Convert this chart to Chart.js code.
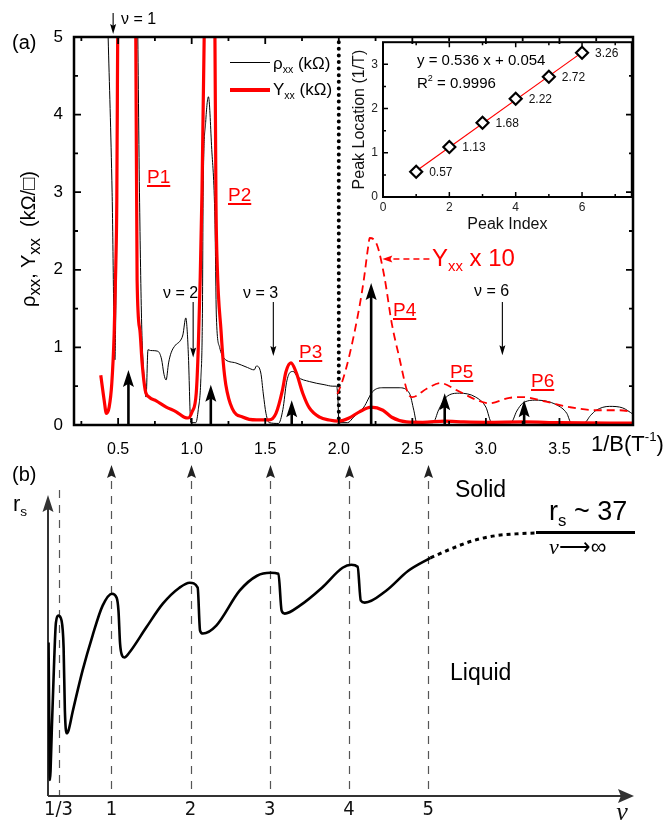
<!DOCTYPE html>
<html>
<head>
<meta charset="utf-8">
<script src="https://cdn.jsdelivr.net/npm/chart.js@4.4.1/dist/chart.umd.min.js"></script>
<style>
  body { margin: 0; background: #fff; }
  #fig { position: relative; width: 670px; height: 824px; overflow: hidden;
         font-family: "Liberation Sans", Arial, sans-serif; color: #000; }
  #fig canvas { position: absolute; }
  .t { position: absolute; white-space: nowrap; line-height: 1; }
  .p { position: absolute; white-space: nowrap; line-height: 1; color: #f00; font-size: 19px;
       text-decoration: underline; text-underline-offset: 2px; text-decoration-thickness: 1.5px; }
  .t sub { font-size: 0.62em; vertical-align: -0.35em; }
  .t sup { font-size: 0.6em; vertical-align: 0.75em; }
  .leg { position: absolute; left: 230px; width: 40px; }
  .ylab { position: absolute; left: 31px; top: 239px; transform: translate(-50%, -50%) rotate(-90deg);
          white-space: nowrap; line-height: 1; font-size: 20px; }
  .nu { font-family: "Liberation Serif", serif; font-style: italic; }
</style>
</head>
<body>
<div id="fig">
  <canvas id="mainChart" width="670" height="460" style="left:0;top:0"></canvas>
  <canvas id="insetChart" width="310" height="210" style="left:330px;top:30px"></canvas>
  <canvas id="rsChart" width="670" height="384" style="left:0;top:440px"></canvas>

  <!-- panel (a) text -->
  <div class="t" style="left:12px;top:32px;font-size:20px">(a)</div>
  <div class="ylab">ρ<sub>xx</sub>, Y<sub>xx</sub> &nbsp;(kΩ/□)</div>
  <div class="t" style="left:121px;top:11px;font-size:16px">ν = 1</div>
  <div class="t" style="left:163px;top:285px;font-size:16px">ν = 2</div>
  <div class="t" style="left:243px;top:285px;font-size:16px">ν = 3</div>
  <div class="t" style="left:474px;top:283px;font-size:16px">ν = 6</div>
  <div class="p" style="left:147px;top:167px">P1</div>
  <div class="p" style="left:228px;top:185px">P2</div>
  <div class="p" style="left:299px;top:342px">P3</div>
  <div class="p" style="left:393px;top:300px">P4</div>
  <div class="p" style="left:450px;top:362px">P5</div>
  <div class="p" style="left:531px;top:371px">P6</div>
  <div class="t" style="left:432px;top:246px;font-size:24px;color:#f00">Y<sub>xx</sub> x 10</div>
  <div class="t" style="left:591px;top:430px;font-size:22px">1/B(T<sup>-1</sup>)</div>
  <div class="leg" style="top:62px;height:1px;background:#000"></div>
  <div class="leg" style="top:88px;height:3.5px;background:#f00"></div>
  <div class="t" style="left:273px;top:55px;font-size:17px">ρ<sub>xx</sub> (kΩ)</div>
  <div class="t" style="left:273px;top:81px;font-size:17px">Y<sub>xx</sub> (kΩ)</div>
  <div class="t" style="left:417px;top:52px;font-size:15px">y = 0.536 x + 0.054</div>
  <div class="t" style="left:417px;top:74px;font-size:15px">R<sup>2</sup> = 0.9996</div>

  <!-- panel (b) text -->
  <div class="t" style="left:12px;top:464px;font-size:20px">(b)</div>
  <div class="t" style="left:13px;top:493px;font-size:22px">r<sub>s</sub></div>
  <div class="t" style="left:455px;top:478px;font-size:23px">Solid</div>
  <div class="t" style="left:450px;top:661px;font-size:23px">Liquid</div>
  <div class="t" style="left:549px;top:498px;font-size:27px">r<sub>s</sub> ~ 37</div>
  <div style="position:absolute;left:536px;top:531px;width:99px;height:3px;background:#000"></div>
  <div class="t" style="left:549px;top:536px;font-size:22px"><span class="nu">ν</span>⟶∞</div>
</div>

<script>
// --- DATA: panel (a), main traces (x = 1/B in 1/T, y in kOhm) ---
const rhoX = [0.42, 0.432, 0.459, 0.478, 0.49, 0.503, 0.52, 0.6, 0.63, 0.645, 0.66, 0.677, 0.69,
  0.703, 0.72, 0.77, 0.795, 0.812, 0.826, 0.843, 0.86, 0.89, 0.92, 0.94, 0.96, 0.97, 0.978, 0.994,
  1.028, 1.045, 1.062, 1.073, 1.078, 1.095, 1.114, 1.135, 1.158, 1.168, 1.19, 1.22, 1.3, 1.38,
  1.425, 1.44, 1.47, 1.487, 1.505, 1.527, 1.59, 1.62, 1.645, 1.67, 1.69, 1.72, 1.8, 1.9, 1.96,
  1.985, 1.995, 2.0, 2.06, 2.1, 2.17, 2.23, 2.3, 2.41, 2.48, 2.51, 2.53, 2.64, 2.68, 2.73, 2.82,
  2.93, 3.0, 3.04, 3.17, 3.21, 3.25, 3.34, 3.48, 3.55, 3.58, 3.67, 3.71, 3.75, 3.84, 3.93, 4.0];
const rhoY = [5.8, 5.0, 3.0, 0.84, 2.6, 5.0, 6.5, 6.5, 5.5, 3.0, 1.3, 0.6, 0.36,
  0.97, 0.96, 0.95, 0.85, 0.65, 0.58, 0.8, 0.93, 1.03, 1.08, 1.16, 1.38, 1.2, 0.88, 0.03,
  0.03, 0.2, 0.58, 1.44, 3.0, 3.9, 4.23, 3.6, 2.64, 1.39, 1.0, 0.86, 0.8, 0.74,
  0.71, 0.76, 0.67, 0.4, 0.15, 0.03, 0.02, 0.2, 0.55, 0.68, 0.69, 0.62, 0.56, 0.52, 0.5,
  0.5, 0.3, 0.03, 0.03, 0.1, 0.23, 0.43, 0.48, 0.48, 0.41, 0.19, 0.03, 0.03, 0.2, 0.36, 0.41,
  0.36, 0.23, 0.03, 0.03, 0.18, 0.28, 0.32, 0.26, 0.15, 0.03, 0.03, 0.12, 0.19, 0.24, 0.22, 0.14];

const gamX = [0.382, 0.405, 0.42, 0.439, 0.457, 0.473, 0.484, 0.491, 0.5, 0.55, 0.61, 0.62, 0.629,
  0.648, 0.663, 0.684, 0.711, 0.759, 0.827, 0.895, 0.95, 0.976, 1.003, 1.031, 1.045, 1.058, 1.07,
  1.085, 1.12, 1.158, 1.165, 1.174, 1.2, 1.215, 1.232, 1.276, 1.35, 1.44, 1.527, 1.573, 1.617,
  1.64, 1.675, 1.71, 1.755, 1.8, 1.87, 1.935, 2.0, 2.07, 2.14, 2.22, 2.3, 2.36, 2.46, 2.57, 2.72,
  2.85, 3.0, 3.26, 3.5, 4.0];
const gamY = [0.64, 0.32, 0.15, 0.23, 0.54, 1.18, 2.04, 2.9, 6.0, 9.0, 6.5, 5.0, 1.87,
  1.22, 0.8, 0.45, 0.36, 0.31, 0.23, 0.17, 0.1, 0.09, 0.17, 0.41, 1.0, 1.9, 3.0,
  5.0, 8.0, 5.0, 2.9, 2.04, 1.2, 0.8, 0.52, 0.21, 0.1, 0.065, 0.065, 0.15, 0.45,
  0.68, 0.8, 0.68, 0.41, 0.22, 0.1, 0.065, 0.05, 0.09, 0.17, 0.23, 0.19, 0.1, 0.04, 0.035, 0.05,
  0.04, 0.035, 0.04, 0.03, 0.025];

const gam10X = [1.99, 2.02, 2.07, 2.14, 2.17, 2.2, 2.21, 2.26, 2.31, 2.36, 2.41, 2.47, 2.5, 2.6,
  2.69, 2.8, 2.94, 3.02, 3.16, 3.25, 3.41, 3.57, 3.75, 3.91, 4.0];
const gam10Y = [0.4, 0.54, 0.88, 1.52, 1.87, 2.3, 2.41, 2.32, 1.91, 1.31, 0.88, 0.41, 0.36, 0.47,
  0.54, 0.45, 0.32, 0.28, 0.35, 0.36, 0.3, 0.23, 0.19, 0.19, 0.17];

const dotX = [2.0, 2.0];
const dotY = [0, 5];

const xTicksA = [0.5, 1.0, 1.5, 2.0, 2.5, 3.0, 3.5];
const xMinorA = [0.25, 0.5, 0.75, 1.0, 1.25, 1.5, 1.75, 2.0, 2.25, 2.5, 2.75, 3.0, 3.25, 3.5, 3.75];
const yTicksA = [0, 1, 2, 3, 4, 5];
const yMinorA = [0.5, 1, 1.5, 2, 2.5, 3, 3.5, 4, 4.5];

// --- DATA: peaks (inset) ---
const peakIndex = [1, 2, 3, 4, 5, 6];
const peakLoc = [0.57, 1.13, 1.68, 2.22, 2.72, 3.26];
const peakArrowTop = [0.71, 0.52, 0.32, 1.83, 0.41, 0.32];
const fitX = [1, 6];
const fitY = [0.59, 3.27];
const insetXTicks = [0, 2, 4, 6];
const insetXMinor = [1, 2, 3, 4, 5, 6, 7];
const insetYTicks = [0, 1, 2, 3];
const insetYMinor = [0.5, 1, 1.5, 2, 2.5, 3];

// --- DATA: panel (b), r_s vs filling factor ---
const rsNu = [0.207, 0.214, 0.224, 0.232, 0.249, 0.278, 0.30, 0.333, 0.371, 0.397, 0.413, 0.435,
  0.46, 0.51, 0.637, 0.763, 0.89, 1.008, 1.067, 1.09, 1.11, 1.135, 1.165, 1.228, 1.44, 1.65, 1.86,
  1.99, 2.09, 2.12, 2.156, 2.325, 2.62, 2.84, 3.01, 3.11, 3.15, 3.19, 3.38, 3.66, 3.92, 4.03,
  4.11, 4.15, 4.2, 4.47, 4.75, 5.03];
const rsVal = [15.4, 9.0, 1.6, 2.5, 6.9, 13.6, 17.4, 18.1, 17.6, 14.9, 8.6, 6.3,
  6.6, 8.4, 12.6, 16.1, 19.1, 20.3, 19.9, 18.6, 15.3, 14.1, 13.9, 14.4, 16.9, 19.3, 20.9,
  21.4, 20.9, 16.6, 16.3, 17.1, 20.6, 22.1, 22.4, 22.3, 18.6, 18.3, 19.1, 20.9, 22.9, 23.2,
  23.0, 19.6, 19.4, 20.6, 22.6, 23.9];
const rsTailNu = [5.03, 5.29, 5.56, 5.84, 6.1, 6.37];
const rsTailVal = [23.9, 24.8, 25.6, 26.1, 26.3, 26.4];
const guideNu = [1 / 3, 1, 2, 3, 4, 5];
const guideLabels = ['1/3', '1', '2', '3', '4', '5'];
const nuAxisPos = 7.45;

const FONT = '"Liberation Sans", Arial, sans-serif';
const zip = (xs, ys) => xs.map((x, i) => ({ x, y: ys[i] }));

// filled arrow head, tip at (x, y)
function arrowHead(ctx, x, y, dir, len, half) {
  const [dx, dy] = { up: [0, -1], down: [0, 1], left: [-1, 0], right: [1, 0] }[dir];
  const bx = x - dx * len, by = y - dy * len;
  const nx = x - dx * len * 0.82, ny = y - dy * len * 0.82;
  ctx.beginPath();
  ctx.moveTo(x, y);
  ctx.lineTo(bx - dy * half, by + dx * half);
  ctx.lineTo(nx, ny);
  ctx.lineTo(bx + dy * half, by - dx * half);
  ctx.closePath();
  ctx.fill();
}

// --- box frame with inward ticks ---
const frameTicks = {
  id: 'frameTicks',
  afterDraw(chart, args, o) {
    const { ctx, chartArea: a } = chart;
    const sx = chart.scales.x, sy = chart.scales.y;
    const isMajor = (list, v) => list.some(m => Math.abs(m - v) < 1e-6);
    ctx.save();
    ctx.strokeStyle = '#000';
    ctx.lineWidth = o.tickWidth;
    ctx.beginPath();
    o.xMinor.forEach(v => {
      const p = sx.getPixelForValue(v);
      const len = isMajor(o.xMajor, v) ? o.major : o.minor;
      if (o.sides.includes('b')) { ctx.moveTo(p, a.bottom); ctx.lineTo(p, a.bottom - len); }
      if (o.sides.includes('t')) { ctx.moveTo(p, a.top); ctx.lineTo(p, a.top + len); }
    });
    o.yMinor.forEach(v => {
      const p = sy.getPixelForValue(v);
      const len = isMajor(o.yMajor, v) ? o.major : o.minor;
      if (o.sides.includes('l')) { ctx.moveTo(a.left, p); ctx.lineTo(a.left + len, p); }
      if (o.sides.includes('r')) { ctx.moveTo(a.right, p); ctx.lineTo(a.right - len, p); }
    });
    ctx.stroke();
    ctx.lineWidth = o.frameWidth;
    ctx.strokeRect(a.left, a.top, a.right - a.left, a.bottom - a.top);
    ctx.restore();
  }
};

// --- arrows of panel (a) ---
const nuMarkX = [0.466, 1.01, 1.555, 3.112];
const nuMarkFrom = [5.31, 1.585, 1.585, 1.585];
const nuMarkTo = [5.04, 0.87, 0.89, 0.9];

const annotateA = {
  id: 'annotateA',
  afterDatasetsDraw(chart) {
    const { ctx } = chart;
    const sx = chart.scales.x, sy = chart.scales.y;
    ctx.save();
    ctx.strokeStyle = '#000';
    ctx.fillStyle = '#000';
    ctx.lineWidth = 2.6;
    peakLoc.forEach((v, i) => {
      const x = sx.getPixelForValue(v);
      const yTop = sy.getPixelForValue(peakArrowTop[i]);
      ctx.beginPath();
      ctx.moveTo(x, sy.getPixelForValue(0));
      ctx.lineTo(x, yTop + 12);
      ctx.stroke();
      arrowHead(ctx, x, yTop, 'up', 17, 5.5);
    });
    ctx.lineWidth = 1.1;
    nuMarkX.forEach((v, i) => {
      const x = sx.getPixelForValue(v);
      const y1 = sy.getPixelForValue(nuMarkTo[i]);
      ctx.beginPath();
      ctx.moveTo(x, sy.getPixelForValue(nuMarkFrom[i]));
      ctx.lineTo(x, y1 - 6);
      ctx.stroke();
      arrowHead(ctx, x, y1, 'down', 10, 3);
    });
    // dashed red pointer to the x10 trace
    const yP = sy.getPixelForValue(2.14);
    const xTip = sx.getPixelForValue(2.296);
    ctx.strokeStyle = '#f00';
    ctx.fillStyle = '#f00';
    ctx.lineWidth = 1.4;
    ctx.setLineDash([6, 4]);
    ctx.beginPath();
    ctx.moveTo(sx.getPixelForValue(2.616), yP);
    ctx.lineTo(xTip + 8, yP);
    ctx.stroke();
    ctx.setLineDash([]);
    arrowHead(ctx, xTip, yP, 'left', 10, 3.5);
    ctx.restore();
  }
};

const lineDs = (label, xs, ys, color, width, extra) => Object.assign({
  label, data: zip(xs, ys), borderColor: color, borderWidth: width,
  pointRadius: 0, fill: false, cubicInterpolationMode: 'monotone'
}, extra || {});

const noGrid = { display: false, drawTicks: false };

new Chart(document.getElementById('mainChart'), {
  type: 'line',
  data: {
    datasets: [
      lineDs('Yxx (kOhm)', gamX, gamY, '#ff0000', 3.2),
      lineDs('Yxx x 10', gam10X, gam10Y, '#ff0000', 1.8, { borderDash: [8, 5] }),
      lineDs('nu = 4', dotX, dotY, '#000', 4, { borderDash: [0, 6.6], borderCapStyle: 'round', cubicInterpolationMode: 'default' }),
      lineDs('rho_xx (kOhm)', rhoX, rhoY, '#000', 1)
    ]
  },
  options: {
    responsive: false,
    animation: false,
    layout: { padding: { left: 0, top: 37, right: 37, bottom: 0 } },
    plugins: {
      legend: { display: false },
      tooltip: { enabled: false },
      frameTicks: { xMajor: xTicksA, xMinor: xMinorA, yMajor: yTicksA, yMinor: yMinorA,
        sides: 'btlr', major: 7, minor: 4, tickWidth: 1.8, frameWidth: 2.5 }
    },
    scales: {
      x: {
        type: 'linear', min: 0.2, max: 4.0,
        grid: noGrid, border: { display: false },
        afterBuildTicks: s => { s.ticks = xTicksA.map(v => ({ value: v })); },
        afterFit: s => { s.height = 35; },
        ticks: { font: { family: FONT, size: 16 }, color: '#000', padding: 15, maxRotation: 0,
          autoSkip: false, callback: v => v.toFixed(1) }
      },
      y: {
        min: 0, max: 5,
        grid: noGrid, border: { display: false },
        afterBuildTicks: s => { s.ticks = yTicksA.map(v => ({ value: v })); },
        afterFit: s => { s.width = 74; },
        ticks: { font: { family: FONT, size: 17 }, color: '#000', padding: 11, callback: v => String(v) }
      }
    }
  },
  plugins: [frameTicks, annotateA]
});

// --- inset: peak location vs index ---
const pointLabels = {
  id: 'pointLabels',
  afterDatasetsDraw(chart) {
    const { ctx } = chart;
    const meta = chart.getDatasetMeta(0);
    ctx.save();
    ctx.font = '12px ' + FONT;
    ctx.fillStyle = '#111';
    ctx.textBaseline = 'middle';
    meta.data.forEach((pt, i) => ctx.fillText(peakLoc[i].toFixed(2), pt.x + 13, pt.y + 1));
    ctx.restore();
  }
};

new Chart(document.getElementById('insetChart'), {
  type: 'line',
  data: {
    datasets: [
      { label: 'peaks', data: zip(peakIndex, peakLoc), showLine: false, pointStyle: 'rectRot',
        pointRadius: 6, pointBorderWidth: 2.2, pointBorderColor: '#000', pointBackgroundColor: '#fff' },
      { label: 'fit', data: zip(fitX, fitY), borderColor: '#ff0000', borderWidth: 1.2, pointRadius: 0 }
    ]
  },
  options: {
    responsive: false,
    animation: false,
    layout: { padding: { left: 0, top: 7, right: 8, bottom: 0 } },
    plugins: {
      legend: { display: false },
      tooltip: { enabled: false },
      frameTicks: { xMajor: insetXTicks, xMinor: insetXMinor, yMajor: insetYTicks, yMinor: insetYMinor,
        sides: 'btl', major: 5, minor: 3, tickWidth: 1.5, frameWidth: 2 }
    },
    scales: {
      x: {
        type: 'linear', min: 0, max: 7.5,
        grid: noGrid, border: { display: false },
        afterBuildTicks: s => { s.ticks = insetXTicks.map(v => ({ value: v })); },
        afterFit: s => { s.height = 43; },
        ticks: { font: { family: FONT, size: 12 }, color: '#222', padding: 3, maxRotation: 0, autoSkip: false },
        title: { display: true, text: 'Peak Index', color: '#111', font: { family: FONT, size: 16 },
          padding: { top: 0, bottom: 6 } }
      },
      y: {
        min: 0, max: 3.5,
        grid: noGrid, border: { display: false },
        afterBuildTicks: s => { s.ticks = insetYTicks.map(v => ({ value: v })); },
        afterFit: s => { s.width = 53; },
        ticks: { font: { family: FONT, size: 12 }, color: '#222', padding: 5 },
        title: { display: true, text: 'Peak Location (1/T)', color: '#111', font: { family: FONT, size: 16 },
          padding: { top: 20, bottom: 0 } }
      }
    }
  },
  plugins: [frameTicks, pointLabels]
});

// --- panel (b): axes with arrows and dashed guides ---
const rsAxes = {
  id: 'rsAxes',
  beforeDatasetsDraw(chart) {
    const { ctx, chartArea: a } = chart;
    const sx = chart.scales.x;
    ctx.save();
    ctx.strokeStyle = '#555';
    ctx.lineWidth = 1.2;
    ctx.setLineDash([8, 7]);
    guideNu.forEach((v, i) => {
      const x = Math.round(sx.getPixelForValue(v)) + 0.5;
      ctx.beginPath();
      ctx.moveTo(x, i === 0 ? a.top - 7 : a.top - 16);
      ctx.lineTo(x, a.bottom);
      ctx.stroke();
    });
    ctx.setLineDash([]);
    ctx.fillStyle = '#222';
    guideNu.slice(1).forEach(v => {
      arrowHead(ctx, Math.round(sx.getPixelForValue(v)) + 0.5, a.top - 32, 'up', 13, 4.5);
    });
    ctx.strokeStyle = '#333';
    ctx.fillStyle = '#333';
    ctx.lineWidth = 2;
    ctx.beginPath();
    ctx.moveTo(a.left, a.bottom);
    ctx.lineTo(a.left, a.top + 10);
    ctx.moveTo(a.left, a.bottom);
    ctx.lineTo(a.right - 10, a.bottom);
    ctx.stroke();
    arrowHead(ctx, a.left, a.top - 2, 'up', 17, 5.5);
    arrowHead(ctx, a.right, a.bottom, 'right', 16, 7);
    ctx.restore();
  }
};

new Chart(document.getElementById('rsChart'), {
  type: 'line',
  data: {
    datasets: [
      lineDs('r_s', rsNu, rsVal, '#000', 2.6),
      lineDs('r_s limit', rsTailNu, rsTailVal, '#000', 3, { borderDash: [4, 4] })
    ]
  },
  options: {
    responsive: false,
    animation: false,
    layout: { padding: { left: 48, top: 57, right: 36, bottom: 0 } },
    plugins: { legend: { display: false }, tooltip: { enabled: false } },
    scales: {
      x: {
        type: 'linear', min: 0.2, max: 7.6,
        grid: noGrid, border: { display: false },
        afterBuildTicks: s => { s.ticks = guideNu.concat([nuAxisPos]).map(v => ({ value: v })); },
        afterFit: s => { s.height = 28; },
        ticks: {
          padding: 2, maxRotation: 0, autoSkip: false, color: '#111',
          callback: (v, i) => (i < guideLabels.length ? guideLabels[i] : 'ν'),
          font: c => (c.index === guideLabels.length
            ? { family: '"Liberation Serif", serif', style: 'italic', size: 26 }
            : { family: '"Liberation Sans Narrow", "DejaVu Sans Condensed", sans-serif', size: 20 })
        }
      },
      y: { display: false, min: 0, max: 30 }
    }
  },
  plugins: [rsAxes]
});
</script>
</body>
</html>
